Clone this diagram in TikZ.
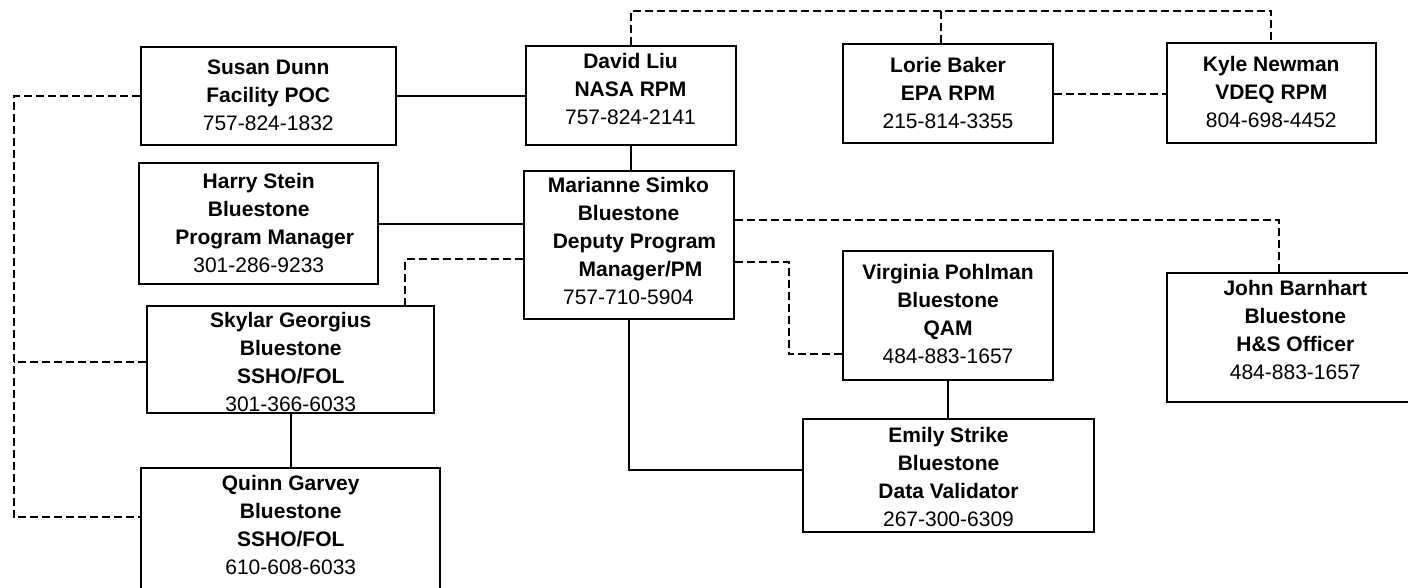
\documentclass[tikz,border=0pt]{standalone}
\usepackage{fontspec}
\setmainfont{Liberation Sans}
\begin{document}
\begin{tikzpicture}[x=0.75pt,y=-0.75pt,
  box/.style={draw, line width=1.5pt, inner sep=0pt},
  txt/.style={align=center, inner sep=0pt, font=\fontsize{15.75pt}{21pt}\selectfont},
  solidline/.style={line width=1.5pt},
  dashline/.style={line width=1.5pt, dash pattern=on 6pt off 3pt}]
\useasboundingbox (0,0) rectangle (1408,587);
\clip (0,0) rectangle (1408,587);

% boxes
\node[box, minimum width=191.6pt, minimum height=73.5pt] (susan) at (268.25,96) {};
\node[box, minimum width=157.5pt, minimum height=74.25pt] (david) at (630.5,95.5) {};
\node[box, minimum width=157.5pt, minimum height=74.25pt] (lorie) at (948,93.5) {};
\node[box, minimum width=157.1pt, minimum height=75pt] (kyle) at (1271.25,93) {};
\node[box, minimum width=179.6pt, minimum height=90.75pt] (harry) at (258.75,223.5) {};
\node[box, minimum width=157.5pt, minimum height=111pt] (marianne) at (628.5,245) {};
\node[box, minimum width=215.6pt, minimum height=80.6pt] (skylar) at (290.75,359.25) {};
\node[box, minimum width=223.9pt, minimum height=93pt] (quinn) at (290.75,530) {};
\node[box, minimum width=157.5pt, minimum height=96.4pt] (virginia) at (948,315.25) {};
\node[box, minimum width=218.25pt, minimum height=84.75pt] (emily) at (948.5,475.5) {};
\node[box, minimum width=193.1pt, minimum height=96.4pt] (john) at (1295.25,337.75) {};

% texts
\node[txt] (susan-t) at (268.25,95) {\textbf{Susan Dunn}\\\textbf{Facility POC}\\757-824-1832};
\node[txt] (david-t) at (630.5,88.5) {\textbf{David Liu}\\\textbf{NASA RPM}\\757-824-2141};
\node[txt] (lorie-t) at (948,92.5) {\textbf{Lorie Baker}\\\textbf{EPA RPM}\\215-814-3355};
\node[txt] (kyle-t) at (1271.25,91.7) {\textbf{Kyle Newman}\\\textbf{VDEQ RPM}\\804-698-4452};
\node[txt] (harry-t) at (258.75,223.25) {\textbf{Harry Stein}\\\textbf{Bluestone}\\\hspace*{9pt}\textbf{Program Manager}\\301-286-9233};
\node[txt] (marianne-t) at (628.5,241.4) {\textbf{Marianne Simko}\\\textbf{Bluestone}\\\hspace*{9pt}\textbf{Deputy Program}\\\hspace*{18pt}\textbf{Manager/PM}\\757-710-5904};
\node[txt] (skylar-t) at (290.75,362.25) {\textbf{Skylar Georgius}\\\textbf{Bluestone}\\\textbf{SSHO/FOL}\\301-366-6033};
\node[txt] (quinn-t) at (290.75,524.75) {\textbf{Quinn Garvey}\\\textbf{Bluestone}\\\textbf{SSHO/FOL}\\610-608-6033};
\node[txt] (virginia-t) at (948,314.25) {\textbf{Virginia Pohlman}\\\textbf{Bluestone}\\\textbf{QAM}\\484-883-1657};
\node[txt] (emily-t) at (948.5,476.75) {\textbf{Emily Strike}\\\textbf{Bluestone}\\\textbf{Data Validator}\\267-300-6309};
\node[txt] (john-t) at (1295.25,329.75) {\textbf{John Barnhart}\\\textbf{Bluestone}\\\textbf{H\&S Officer}\\484-883-1657};

% helper coordinates
\coordinate (topbar) at (0,11);
\coordinate (lbar) at (13.5,0);
\coordinate (vbend) at (789,300);
\coordinate (lo1) at ([xshift=-5.25pt]lorie.north);
\coordinate (sk1) at ([yshift=-2.25pt]skylar.west);
\coordinate (qu1) at ([yshift=9.75pt]quinn.west);
\coordinate (ma1) at ([yshift=-10.5pt]marianne.west);
\coordinate (sk2) at ([xshift=85.9pt]skylar.north);
\coordinate (ma2) at ([yshift=18.75pt]marianne.east);
\coordinate (jo1) at ([xshift=-12.2pt]john.north);
\coordinate (ma3) at ([yshift=-12.75pt]marianne.east);
\coordinate (vi1) at ([yshift=-29.1pt]virginia.west);
\coordinate (em1) at ([yshift=4.1pt]emily.west);

% solid connectors
\draw[solidline] (susan.east) -- (susan.east -| david.west);
\draw[solidline] (david.south) -- (david.south |- marianne.north);
\draw[solidline] (harry.east) -- (harry.east -| marianne.west);
\draw[solidline] (skylar.south) -- (skylar.south |- quinn.north);
\draw[solidline] (virginia.south) -- (virginia.south |- emily.north);
\draw[solidline] (marianne.south) |- (em1);

% dashed connectors
\draw[dashline] (david.north) -- (david.north |- topbar) -| (kyle.north);
\draw[dashline] (lo1) -- (lo1 |- topbar);
\draw[dashline] (lorie.east) -- (lorie.east -| kyle.west);
\draw[dashline] (susan.west) -- (susan.west -| lbar) |- (qu1);
\draw[dashline] (sk1) -- (sk1 -| lbar);
\draw[dashline] (ma1) -| (sk2);
\draw[dashline] (ma2) -| (jo1);
\draw[dashline] (ma3) -- (ma3 -| vbend) |- (vi1);
\end{tikzpicture}
\end{document}
